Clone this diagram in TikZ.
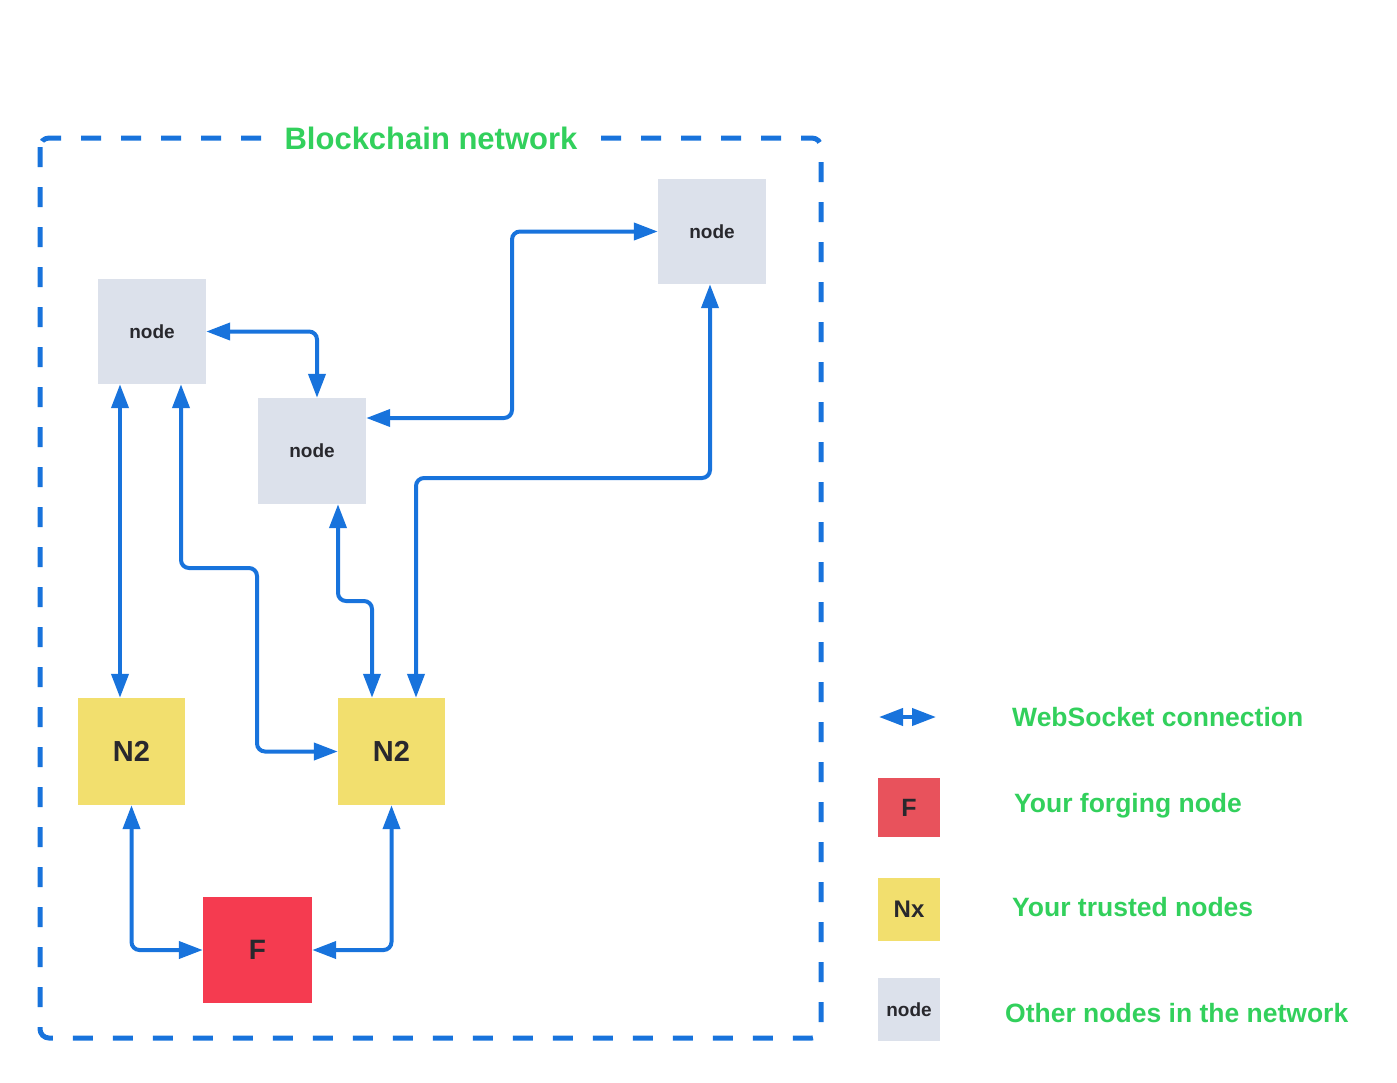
\documentclass[tikz,border=0pt]{standalone}
\usepackage{fontspec}
\setmainfont{Liberation Sans}
\usetikzlibrary{arrows.meta}
\definecolor{cblue}{RGB}{24,115,220}
\definecolor{cgreen}{RGB}{50,208,92}
\definecolor{cgray}{RGB}{220,225,235}
\definecolor{cyellow}{RGB}{242,223,110}
\definecolor{cred}{RGB}{245,59,80}
\definecolor{cred2}{RGB}{232,82,92}
\definecolor{cdark}{RGB}{40,40,45}
\tikzset{
  box/.style={inner sep=0pt, anchor=center, text=cdark, font=\bfseries},
  graybox/.style={box, fill=cgray, minimum width=108pt, minimum height=106pt, font=\bfseries\fontsize{19}{22}\selectfont},
  yellowbox/.style={box, fill=cyellow, minimum width=107pt, minimum height=107pt, font=\bfseries\fontsize{29}{33}\selectfont},
  redbox/.style={box, fill=cred, minimum width=109pt, minimum height=106pt, font=\bfseries\fontsize{28}{32}\selectfont},
  conn/.style={draw=cblue, line width=4pt, rounded corners=8pt,
    {Triangle[length=24pt,width=17pt]}-{Triangle[length=24pt,width=17pt]}},
  frame/.style={draw=cblue, line width=5pt, dash pattern=on 20pt off 20pt, rounded corners=9pt},
  gtext/.style={text=cgreen, font=\bfseries\fontsize{26.5}{30}\selectfont, anchor=west, inner sep=0pt},
}
\begin{document}
\begin{tikzpicture}[x=1pt,y=-1pt]
\useasboundingbox (0,0) rectangle (1397,1082);
% frame
\draw[frame] (40,138) rectangle (821,1038);
\node[fill=white, inner xsep=10pt, inner ysep=4pt, text=cgreen, font=\bfseries\fontsize{31}{34}\selectfont] (title) at (431,138) {Blockchain network};
% nodes
\node[graybox, minimum height=105pt] (A) at (152,331.5) {node};
\node[graybox] (B) at (312,451) {node};
\node[graybox, minimum height=105pt] (C) at (712,231.5) {node};
\node[yellowbox] (N2L) at (131.5,751.5) {N2};
\node[yellowbox] (N2R) at (391.5,751.5) {N2};
\node[redbox] (F) at (257.5,950) {F};
% bend points
\coordinate (k3) at (257,568);
\coordinate (k4) at (512,231.5);
\coordinate (k5) at (355,601);
\coordinate (k6) at (560,478);
% connectors
\draw[conn] (A.east) -| ([xshift=5pt]B.north);
\draw[conn] ([xshift=-32pt]A.south) -- ([xshift=-32pt]A.south |- N2L.north);
\draw[conn] ([xshift=29pt]A.south) |- (k3) |- (N2R.west);
\draw[conn] ([yshift=33pt]B.east) -| (k4) -- (C.west);
\draw[conn] ([xshift=26pt]B.south) |- (k5) -| ([xshift=-19.5pt]N2R.north);
\draw[conn] ([xshift=-2pt]C.south) |- (k6) -| ([xshift=24.5pt]N2R.north);
\draw[conn] (N2L.south) |- (F.west);
\draw[conn] (N2R.south) |- (F.east);
% legend
\coordinate (l1) at (879,717);
\coordinate (l2) at (936,717);
\draw[conn] (l1) -- (l2);
\node[box, fill=cred2, minimum width=62pt, minimum height=59pt, font=\bfseries\fontsize{25}{28}\selectfont] (LF) at (909,807.5) {F};
\node[box, fill=cyellow, minimum width=62pt, minimum height=63pt, font=\bfseries\fontsize{24}{28}\selectfont] (LN) at (909,909.5) {Nx};
\node[box, fill=cgray, minimum width=62pt, minimum height=63pt, font=\bfseries\fontsize{19}{22}\selectfont] (LO) at (909,1009.5) {node};
\node[gtext] (t1) at (1012,717) {WebSocket connection};
\node[gtext] (t2) at (1014,806) {Your forging node};
\node[gtext] (t3) at (1012,907) {Your trusted nodes};
\node[gtext] (t4) at (1005,1013) {Other nodes in the network};
\end{tikzpicture}
\end{document}
